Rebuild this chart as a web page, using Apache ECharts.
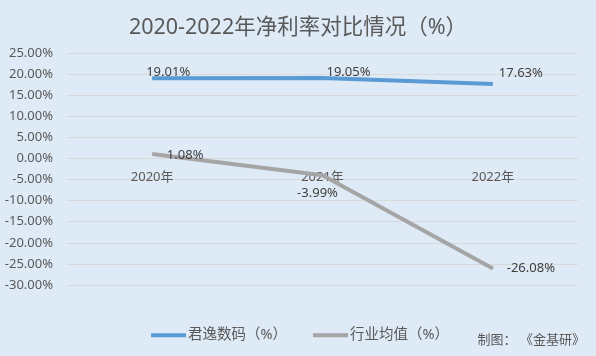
<!DOCTYPE html>
<html><head><meta charset="utf-8">
<script src="https://cdn.jsdelivr.net/npm/echarts@6/dist/echarts.min.js"></script>
<style>html,body{margin:0;padding:0;background:#DEEAF6;}#c{width:596px;height:356px;}</style>
</head><body><div id="c"></div>
<script>
var categories = ['2020年', '2021年', '2022年'];
var seriesNames = ['君逸数码（%）', '行业均值（%）'];
var junyiValues = [19.01, 19.05, 17.63];
var industryValues = [1.08, -3.99, -26.08];
var title = '2020-2022年净利率对比情况（%）';
var source = '制图： 《金基研》';

var junyiOffsets = [[16, -6], [26, -6], [28, -11]];
var industryOffsets = [[33, 1], [-5, 18], [38, 0]];

function mk(vals, offs) {
  return vals.map(function (v, i) {
    return { value: v, label: { offset: offs[i] } };
  });
}
var font = '"Noto Sans", "Noto Sans CJK SC", sans-serif';
var chart = echarts.init(document.getElementById('c'));
var gridTop = 53, gridBottom = 71, H = 356;
var plotH = H - gridTop - gridBottom;
var zeroOffset = -plotH * 30 / 55;
chart.setOption({
  backgroundColor: '#DEEAF6',
  animation: false,
  title: {
    text: title, left: 'center', top: 12,
    textStyle: { fontSize: 21.5, fontWeight: 'normal', color: '#595959', fontFamily: font }
  },
  graphic: [{
    type: 'text', right: 11, top: 334,
    style: { text: source, fontSize: 13, fill: '#595959', fontFamily: font }
  }],
  legend: {
    left: 146, top: 323, itemWidth: 35, itemHeight: 4, itemGap: 26,
    icon: 'rect',
    textStyle: { fontSize: 14.5, color: '#595959', fontFamily: font, padding: [0, 0, 0, -3] },
    data: seriesNames
  },
  grid: { left: 67, right: 18, top: gridTop, bottom: gridBottom, containLabel: false },
  xAxis: {
    type: 'category', data: categories, position: 'bottom', offset: zeroOffset,
    axisLine: { show: true, onZero: false, lineStyle: { color: '#D9D9D9' } },
    axisTick: { show: false },
    axisLabel: { margin: 12, fontSize: 13, color: '#595959', fontFamily: font }
  },
  yAxis: {
    type: 'value', min: -30, max: 25, interval: 5,
    axisLine: { show: false }, axisTick: { show: false },
    splitLine: { lineStyle: { color: '#D9D9D9' } },
    axisLabel: {
      margin: 14, fontSize: 13, color: '#595959', fontFamily: font,
      formatter: function (v) { return v.toFixed(2) + '%'; }
    }
  },
  series: [
    {
      name: seriesNames[0], type: 'line', data: mk(junyiValues, junyiOffsets),
      symbol: 'circle', symbolSize: 1,
      lineStyle: { color: '#5B9BD5', width: 4 }, itemStyle: { color: '#5B9BD5' },
      label: { show: true, position: 'inside', fontSize: 13, color: '#404040', fontFamily: font,
        formatter: function (p) { return p.value.toFixed(2) + '%'; } }
    },
    {
      name: seriesNames[1], type: 'line', data: mk(industryValues, industryOffsets),
      symbol: 'circle', symbolSize: 1,
      lineStyle: { color: '#A5A5A5', width: 4 }, itemStyle: { color: '#A5A5A5' },
      label: { show: true, position: 'inside', fontSize: 13, color: '#404040', fontFamily: font,
        formatter: function (p) { return p.value.toFixed(2) + '%'; } }
    }
  ]
});
</script></body></html>
